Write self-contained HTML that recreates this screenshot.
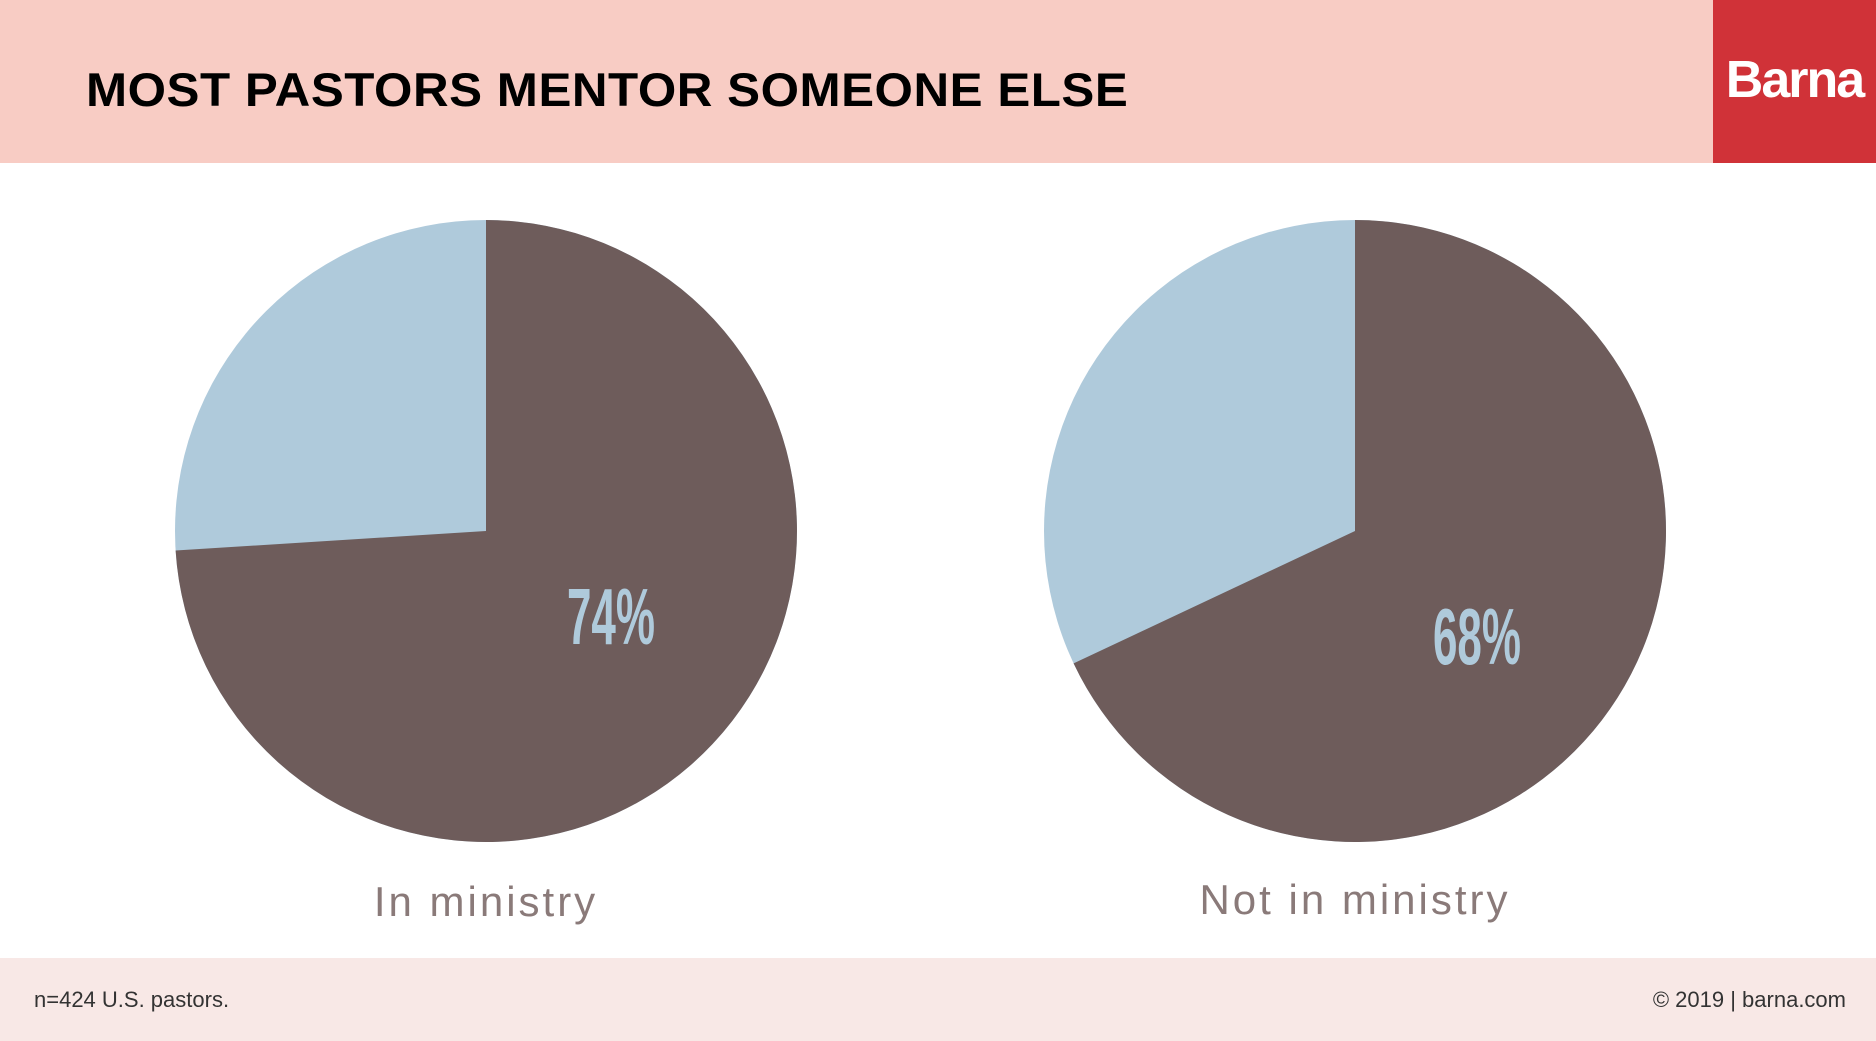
<!DOCTYPE html>
<html><head><meta charset="utf-8"><style>
body{margin:0;width:1876px;height:1041px;background:#fff;position:relative;overflow:hidden;font-family:"Liberation Sans",sans-serif}
.hdr{position:absolute;left:0;top:0;width:1876px;height:163px;background:#f8ccc4}
.logo{position:absolute;left:1713px;top:0;width:163px;height:163px;background:#d03238;color:#fff;font-weight:bold;font-size:52px;letter-spacing:-2px;text-align:center;line-height:160px}
.title{position:absolute;left:86px;top:62px;font-size:47px;font-weight:900;color:#000;letter-spacing:0.5px;transform:scaleX(1.05);transform-origin:left}
.ftr{position:absolute;left:0;top:958px;width:1876px;height:83px;background:#f8e8e6;color:#333;font-size:22px}
.lab{position:absolute;font-size:42px;color:#8a7a79;letter-spacing:3px;transform:translateX(-50%);white-space:nowrap}
.pct{position:absolute;font-size:80px;font-weight:bold;color:#afcadb;transform:translate(-50%,-50%) scaleX(0.55)}
</style></head><body>
<div class="hdr"></div>
<div class="logo">Barna</div>
<div class="title">MOST PASTORS MENTOR SOMEONE ELSE</div>
<svg style="position:absolute;left:0;top:0" width="1876" height="1041">
<circle cx="486" cy="531" r="311" fill="#afcadb"/>
<path d="M486 531 L486 220 A311 311 0 1 1 175.6 550.5 Z" fill="#6e5c5b"/>
<circle cx="1355" cy="531" r="311" fill="#afcadb"/>
<path d="M1355 531 L1355 220 A311 311 0 1 1 1073.6 663.4 Z" fill="#6e5c5b"/>
</svg>
<div class="pct" style="left:611px;top:617px">74%</div>
<div class="pct" style="left:1477px;top:637px">68%</div>
<div class="lab" style="left:486px;top:878px">In ministry</div>
<div class="lab" style="left:1355px;top:876px">Not in ministry</div>
<div class="ftr"><span style="position:absolute;left:34px;top:29px">n=424 U.S. pastors.</span><span style="position:absolute;right:30px;top:29px">© 2019 | barna.com</span></div>
</body></html>
